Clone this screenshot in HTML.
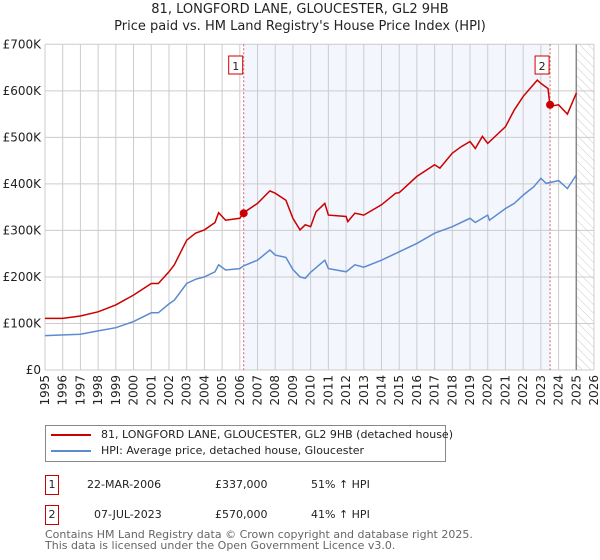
<!DOCTYPE html>
<html><head><meta charset="utf-8"><style>
body{margin:0;background:#fff;font-family:"DejaVu Sans","Liberation Sans",sans-serif;}
svg{display:block}
</style></head><body>
<svg width="600" height="560" xmlns="http://www.w3.org/2000/svg">
<g id="g"></g>
</svg>
<script>
const years=[1995,1996,1997,1998,1999,2000,2001,2002,2003,2004,2005,2006,2007,2008,2009,2010,2011,2012,2013,2014,2015,2016,2017,2018,2019,2020,2021,2022,2023,2024,2025,2026];
const yTicks=[0,100000,200000,300000,400000,500000,600000,700000];
const yTickLabels=["£0","£100K","£200K","£300K","£400K","£500K","£600K","£700K"];
const hpiT=[1995,1997,1998,1999,2000,2001,2001.4,2002,2002.3,2003,2003.5,2004,2004.6,2004.8,2005.2,2006,2006.22,2007,2007.7,2008,2008.6,2009,2009.4,2009.7,2010,2010.8,2011,2012,2012.5,2013,2014,2015,2016,2017,2018,2019,2019.3,2020,2020.1,2021,2021.5,2022,2022.6,2023,2023.3,2024,2024.5,2025];
const hpiV=[74,77,84,91,104,123,123,142,150,186,195,200,211,226,215,218,224,236,258,247,242,216,200,197,210,236,218,211,226,221,236,254,272,294,308,326,317,333,322,347,358,376,394,412,401,407,390,419];
const priceT=[1995,1996,1997,1998,1999,2000,2001,2001.4,2002,2002.3,2003,2003.5,2004,2004.6,2004.8,2005.2,2006,2006.22,2007,2007.7,2008,2008.6,2009,2009.4,2009.7,2010,2010.3,2010.8,2011,2012,2012.1,2012.5,2013,2014,2014.8,2015,2016,2017,2017.3,2018,2018.5,2019,2019.3,2019.7,2020,2021,2021.5,2022,2022.8,2023,2023.4,2023.52,2024,2024.5,2025];
const priceV=[111,111,116,125,140,161,186,186,211,226,279,294,301,317,338,322,326,338,358,385,380,365,326,301,312,308,340,358,333,330,319,337,333,355,380,381,416,441,434,466,480,491,476,502,487,523,559,588,623,616,605,567,570,550,595];
const salesT=[2006.22,2023.52];
const salesV=[337,570];
const L=45,R=594,T=44.3,B=370;
const x=t=>L+(t-1995)*(R-L)/31;
const y=v=>B-v*(B-T)/700000;
const g=document.getElementById('g');
const NS="http://www.w3.org/2000/svg";
function mk(tag,at,name,txt){const e=document.createElementNS(NS,tag);for(const k in at)e.setAttribute(k,at[k]);


if(txt!==undefined)e.textContent=txt;g.appendChild(e);return e;}
const defs=document.createElementNS(NS,'defs');defs.innerHTML='<pattern id="h" width="6" height="6" patternUnits="userSpaceOnUse" patternTransform="rotate(-45)"><line x1="0" y1="0" x2="0" y2="6" stroke="#ccc" stroke-width="1"/></pattern>';g.appendChild(defs);
mk('rect',{x:x(salesT[0]),y:T,width:x(salesT[1])-x(salesT[0]),height:B-T,fill:'#eef2fc',opacity:0.7},'ownership-shade');
mk('rect',{x:x(2025),y:T,width:R-x(2025),height:B-T,fill:'url(#h)'},'future-hatch');
years.forEach(t=>{mk('line',{x1:x(t),x2:x(t),y1:T,y2:B,stroke:'#ccc','stroke-width':1},'grid-x');
const tx=x(t)+4,ty=B+5;
mk('text',{x:tx,y:ty,'font-size':12,'text-anchor':'end',fill:'#222',transform:'rotate(-90 '+tx+' '+ty+')'},'x-tick-label',String(t));});
yTicks.forEach((v,i)=>{mk('line',{x1:L,x2:R,y1:y(v),y2:y(v),stroke:'#ccc','stroke-width':1},'grid-y');
mk('text',{x:L-4,y:y(v)+4,'font-size':12,'text-anchor':'end',fill:'#222'},'y-tick-label',yTickLabels[i]);});
mk('line',{x1:x(2025),x2:x(2025),y1:T,y2:B,stroke:'#888','stroke-width':1.5},'today-line');
salesT.forEach((t,i)=>{mk('line',{x1:x(t),x2:x(t),y1:T,y2:B,stroke:'#e06060','stroke-width':1,'stroke-dasharray':'2,2'},'sale-line');});
const pts=(ts,vs)=>ts.map((t,i)=>x(t).toFixed(1)+','+y(vs[i]*1000).toFixed(1)).join(' ');
mk('polyline',{points:pts(hpiT,hpiV),fill:'none',stroke:'#5b8bd0','stroke-width':1.5},'hpi-line');
mk('polyline',{points:pts(priceT,priceV),fill:'none',stroke:'#cc0000','stroke-width':1.5},'price-line');
salesT.forEach((t,i)=>{mk('circle',{cx:x(t),cy:y(salesV[i]*1000),r:4,fill:'#cc0000'},'sale-point');
const bx=x(t)-8;mk('rect',{x:bx-7,y:56,width:14,height:18,fill:'#fff',stroke:'#cc0000'},'sale-marker-box');
mk('text',{x:bx,y:70,'font-size':11,'text-anchor':'middle',fill:'#222'},'sale-marker-label',String(i+1));});
</script>
<div style="position:absolute;left:0;top:0;width:600px;height:560px;pointer-events:none">
<div style="position:absolute;top:1px;width:600px;text-align:center;font-size:13px;line-height:17px;color:#222">81, LONGFORD LANE, GLOUCESTER, GL2 9HB<br>Price paid vs. HM Land Registry's House Price Index (HPI)</div>
<div style="position:absolute;left:45px;top:425px;width:399px;height:35px;border:1px solid #888;font-size:11px;color:#222">
<div style="position:absolute;left:5px;top:2px;white-space:nowrap"><span style="display:inline-block;width:40px;height:2px;background:#cc0000;vertical-align:middle;margin-right:10px"></span>81, LONGFORD LANE, GLOUCESTER, GL2 9HB (detached house)</div>
<div style="position:absolute;left:5px;top:18px;white-space:nowrap"><span style="display:inline-block;width:40px;height:2px;background:#5b8bd0;vertical-align:middle;margin-right:10px"></span>HPI: Average price, detached house, Gloucester</div>
</div>
<div style="font-size:11px;color:#222">
<div style="position:absolute;left:45px;top:475px;width:12px;height:18px;border:1px solid #cc0000;text-align:center;line-height:18px">1</div>
<div style="position:absolute;left:87px;top:478px">22-MAR-2006</div>
<div style="position:absolute;left:215px;top:478px">£337,000</div>
<div style="position:absolute;left:311px;top:478px">51% ↑ HPI</div>
<div style="position:absolute;left:45px;top:505px;width:12px;height:18px;border:1px solid #cc0000;text-align:center;line-height:18px">2</div>
<div style="position:absolute;left:94px;top:508px">07-JUL-2023</div>
<div style="position:absolute;left:215px;top:508px">£570,000</div>
<div style="position:absolute;left:311px;top:508px">41% ↑ HPI</div>
</div>
<div style="position:absolute;left:45px;top:529px;font-size:11px;line-height:11px;color:#666;white-space:nowrap">Contains HM Land Registry data © Crown copyright and database right 2025.<br>This data is licensed under the Open Government Licence v3.0.</div>
</div>
</body></html>
